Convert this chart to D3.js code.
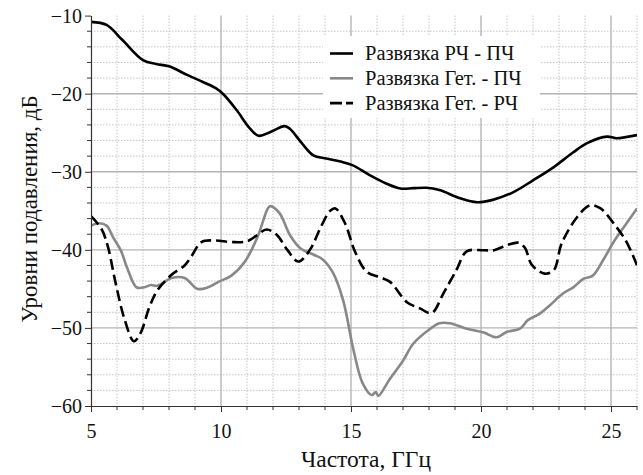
<!DOCTYPE html>
<html>
<head>
<meta charset="utf-8">
<script src="https://cdn.jsdelivr.net/npm/d3@7"></script>
<style>
  html, body { margin: 0; padding: 0; background: #fff; }
  svg { display: block; }
  text { font-family: "Liberation Serif", "Times New Roman", serif; fill: #111; }
</style>
</head>
<body>
<svg id="chart" width="643" height="475"></svg>
<script>
// Isolation RF - IF
const freqRfIf = [5, 5.6, 6.2, 7.0, 7.5, 8.0, 8.7, 9.3, 9.8, 10.1, 10.6, 11.1, 11.45, 11.9, 12.45, 12.65, 13.1, 13.55, 14.05, 14.6, 15.05, 15.7, 16.35, 16.9, 17.4, 17.9, 18.4, 19.2, 19.85, 20.45, 21.25, 22.0, 22.8, 23.55, 24.1, 24.85, 25.2, 26];
const lossRfIf = [-10.8, -11.2, -13.1, -15.7, -16.2, -16.5, -17.6, -18.5, -19.3, -20.1, -22.1, -24.4, -25.4, -24.9, -24.15, -24.5, -26.3, -27.9, -28.3, -28.7, -29.15, -30.4, -31.5, -32.15, -32.1, -32.05, -32.35, -33.4, -33.9, -33.6, -32.6, -31.1, -29.4, -27.5, -26.3, -25.5, -25.7, -25.3];

// Isolation LO - IF
const freqLoIf = [5, 5.3, 5.6, 5.85, 6.15, 6.4, 6.75, 7.05, 7.3, 7.55, 8.1, 8.6, 9.1, 9.5, 9.9, 10.4, 10.9, 11.4, 11.8, 11.9, 12.25, 12.65, 13.05, 13.55, 13.9, 14.3, 14.7, 15.1, 15.45, 15.8, 15.95, 16.05, 16.5, 17.0, 17.4, 18.05, 18.4, 18.8, 19.45, 20.1, 20.6, 21.0, 21.5, 21.8, 22.25, 22.65, 23.15, 23.55, 23.95, 24.3, 24.7, 25.1, 25.6, 26];
const lossLoIf = [-36.9, -36.6, -36.9, -38.4, -40.1, -42.4, -44.8, -44.8, -44.5, -44.6, -43.6, -43.6, -45.0, -44.8, -44.1, -43.3, -41.6, -38.4, -34.7, -34.4, -35.3, -38.1, -39.8, -40.6, -41.2, -42.9, -46.5, -52.9, -57.1, -58.6, -58.2, -58.7, -56.5, -54.2, -52.0, -50.1, -49.4, -49.4, -50.1, -50.6, -51.2, -50.5, -50.1, -49.0, -48.2, -47.1, -45.6, -44.8, -43.7, -43.3, -41.3, -39.0, -36.6, -34.7];

// Isolation LO - RF
const freqLoRf = [5, 5.4, 5.65, 5.95, 6.3, 6.65, 6.9, 7.25, 7.55, 8.1, 8.6, 8.85, 9.25, 9.75, 10.4, 11.0, 11.4, 11.75, 12.15, 12.55, 12.97, 13.42, 13.85, 14.2, 14.4, 14.77, 15.15, 15.6, 16.1, 16.5, 17.15, 17.65, 18.1, 18.55, 19.05, 19.45, 20.1, 20.5, 21.0, 21.45, 21.7, 21.95, 22.45, 22.8, 23.1, 23.7, 24.2, 24.6, 25.1, 25.6, 26];
const lossLoRf = [-35.7, -37.3, -39.6, -44.3, -49.0, -51.7, -50.7, -47.3, -45.2, -43.2, -42.0, -40.9, -39.0, -38.8, -39.0, -38.9, -38.1, -37.4, -38.1, -40.0, -41.5, -40.0, -37.0, -35.0, -34.7, -36.6, -40.2, -42.8, -43.5, -44.1, -46.7, -47.5, -48.1, -45.6, -42.6, -40.2, -40.05, -40.05, -39.4, -39.1, -39.8, -41.9, -43.05, -42.6, -39.2, -35.8, -34.3, -34.7, -36.6, -39.0, -42.0];

const seriesNames = ["Развязка РЧ - ПЧ", "Развязка Гет. - ПЧ", "Развязка Гет. - РЧ"];
const xMajorTicks = [5, 10, 15, 20, 25];
const yMajorTicks = [-10, -20, -30, -40, -50, -60];
const xTitle = "Частота, ГГц";
const yTitle = "Уровни подавления, дБ";

const svg = d3.select("#chart");
const plotLeft = 91, plotRight = 637, plotTop = 15.6, plotBottom = 406;

const x = d3.scaleLinear().domain([5, 26]).range([plotLeft, plotRight]);
const y = d3.scaleLinear().domain([-60, -10]).range([plotBottom, plotTop]);

const xMinor = d3.range(5, 26.01, 1);
const yMinor = d3.range(-60, -9.99, 2);

// minor grid (dotted)
const grid = svg.append("g");
grid.selectAll(".vminor").data(xMinor.filter(v => v % 5 !== 0)).join("line")
  .attr("x1", d => x(d)).attr("x2", d => x(d)).attr("y1", plotTop).attr("y2", plotBottom)
  .attr("stroke", "#c4c4c4").attr("stroke-width", 1).attr("stroke-dasharray", "1.5,1.5");
grid.selectAll(".hminor").data(yMinor.filter(v => v % 10 !== 0)).join("line")
  .attr("x1", plotLeft).attr("x2", plotRight).attr("y1", d => y(d)).attr("y2", d => y(d))
  .attr("stroke", "#c4c4c4").attr("stroke-width", 1).attr("stroke-dasharray", "1.5,1.5");
// major grid
grid.selectAll(".vmajor").data(xMajorTicks.filter(v => v !== 5)).join("line")
  .attr("x1", d => x(d)).attr("x2", d => x(d)).attr("y1", plotTop).attr("y2", plotBottom)
  .attr("stroke", "#a8a8a8").attr("stroke-width", 1.2);
grid.selectAll(".hmajor").data(yMajorTicks.filter(v => v !== -60 && v !== -10)).join("line")
  .attr("x1", plotLeft).attr("x2", plotRight).attr("y1", d => y(d)).attr("y2", d => y(d))
  .attr("stroke", "#b4b4b4").attr("stroke-width", 1.4);

// curves
svg.append("clipPath").attr("id", "plotclip").append("rect")
  .attr("x", plotLeft).attr("y", plotTop - 4).attr("width", plotRight - plotLeft).attr("height", plotBottom - plotTop + 4);

const line = d3.line().x(d => x(d[0])).y(d => y(d[1])).curve(d3.curveCatmullRom.alpha(0.5));
const plot = svg.append("g").attr("clip-path", "url(#plotclip)");

const s1 = freqRfIf.map((f, i) => [f, lossRfIf[i]]);
const s2 = freqLoIf.map((f, i) => [f, lossLoIf[i]]);
const s3 = freqLoRf.map((f, i) => [f, lossLoRf[i]]);

plot.append("path").datum(s1).attr("d", line).attr("fill", "none")
  .attr("stroke", "#000").attr("stroke-width", 2.6).attr("stroke-linejoin", "round");
plot.append("path").datum(s2).attr("d", line).attr("fill", "none")
  .attr("stroke", "#888").attr("stroke-width", 2.6).attr("stroke-linejoin", "round");
plot.append("path").datum(s3).attr("d", line).attr("fill", "none")
  .attr("stroke", "#000").attr("stroke-width", 2.6).attr("stroke-dasharray", "11,5");

// axes
const serif = "'Liberation Serif', 'Times New Roman', serif";
const xAxis = svg.append("g").attr("transform", `translate(0,${plotBottom})`)
  .call(d3.axisBottom(x).tickValues(xMajorTicks).tickSize(6).tickSizeOuter(0).tickFormat(d3.format("d")));
xAxis.selectAll(".tick text").attr("y", 32).attr("dy", 0).style("font-size", "20px");
xAxis.append("g").selectAll("line").data(xMinor.filter(v => v % 5 !== 0)).join("line")
  .attr("x1", d => x(d)).attr("x2", d => x(d)).attr("y1", 0).attr("y2", 4).attr("stroke", "#333");

const yAxis = svg.append("g").attr("transform", `translate(${plotLeft},0)`)
  .call(d3.axisLeft(y).tickValues(yMajorTicks).tickSize(6).tickSizeOuter(0));
yAxis.selectAll(".tick text").attr("x", -9).attr("dy", "0.34em").style("font-size", "20px");
yAxis.append("g").selectAll("line").data(yMinor.filter(v => v % 10 !== 0)).join("line")
  .attr("y1", d => y(d)).attr("y2", d => y(d)).attr("x1", 0).attr("x2", -4).attr("stroke", "#333");

[xAxis, yAxis].forEach(a => {
  a.attr("font-family", serif);
  a.select(".domain").attr("stroke", "#333").attr("stroke-width", 1.2);
  a.selectAll(".tick line").attr("stroke", "#333");
  a.selectAll(".tick text").style("font-family", serif).attr("fill", "#111");
});

// axis titles
svg.append("text").attr("x", 366).attr("y", 467).attr("text-anchor", "middle")
  .style("font-family", serif).style("font-size", "23.5px").text(xTitle);
svg.append("text").attr("transform", "translate(37,209) rotate(-90)").attr("text-anchor", "middle")
  .style("font-family", serif).style("font-size", "23px").text(yTitle);

// legend
const legend = svg.append("g");
legend.append("rect").attr("x", 323).attr("y", 36).attr("width", 217).attr("height", 82).attr("fill", "#fff");
const legendStyles = [
  { stroke: "#000", dash: null },
  { stroke: "#888", dash: null },
  { stroke: "#000", dash: "12,4" }
];
seriesNames.forEach((name, i) => {
  const cy = 53.5 + i * 24.8;
  legend.append("line").attr("x1", 330).attr("x2", 353).attr("y1", cy).attr("y2", cy)
    .attr("stroke", legendStyles[i].stroke).attr("stroke-width", 2.6)
    .attr("stroke-dasharray", legendStyles[i].dash);
  legend.append("text").attr("x", 365).attr("y", cy + 6.5)
    .style("font-family", serif).style("font-size", "20.5px").text(name);
});
</script>
</body>
</html>
